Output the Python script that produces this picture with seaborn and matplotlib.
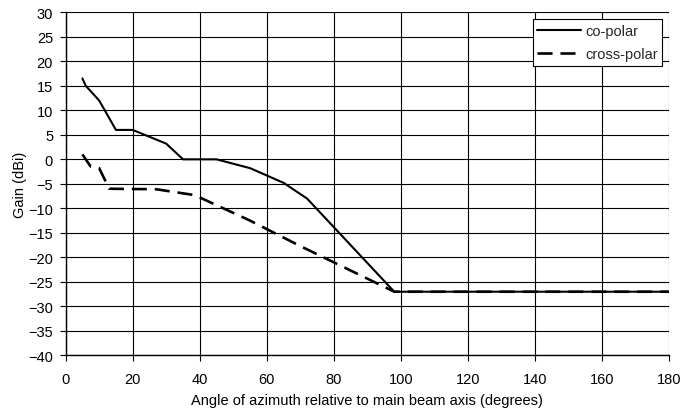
import matplotlib
matplotlib.use("Agg")
import matplotlib.pyplot as plt
import seaborn as sns
import pandas as pd

co_x = [5, 6, 10, 15, 20, 30, 35, 45, 55, 65, 72, 98, 180]
co_y = [16.5, 15, 12, 6, 6, 3.2, 0, 0, -1.8, -4.8, -8, -27, -27]
cross_x = [5, 7.5, 10, 13, 27, 38.5, 55, 70, 98, 180]
cross_y = [1, -1.5, -1.8, -6, -6.1, -7.3, -12.5, -17.7, -27, -27]
series = ["co-polar", "cross-polar"]
x_ticks = list(range(0, 181, 20))
y_ticks = list(range(-40, 31, 5))

df = pd.DataFrame({
    "angle": co_x + cross_x,
    "gain": co_y + cross_y,
    "series": [series[0]] * len(co_x) + [series[1]] * len(cross_x),
})

sns.set_theme(style="white")
plt.rcParams["font.family"] = ["Liberation Sans", "DejaVu Sans"]
FS = 10.5

fig = plt.figure(figsize=(6.85, 4.14), dpi=100)
ax = fig.add_axes([0.0958, 0.139, 0.977 - 0.0958, 0.968 - 0.139])

sns.lineplot(data=df, x="angle", y="gain", hue="series", style="series",
             palette={series[0]: "black", series[1]: "black"},
             dashes={series[0]: "", series[1]: (5.7, 3)},
             size="series", sizes={series[0]: 1.5, series[1]: 1.9},
             ax=ax, sort=False, estimator=None)

ax.set_xlim(0, 180)
ax.set_ylim(-40, 30)
ax.set_xticks(x_ticks)
ax.set_yticks(y_ticks)
ax.grid(True, color="black", linewidth=0.8)
ax.set_axisbelow(True)
for s in ["top", "right"]:
    ax.spines[s].set_visible(False)
for s in ["left", "bottom"]:
    ax.spines[s].set_color("black")
    ax.spines[s].set_linewidth(1.0)
ax.tick_params(axis="both", direction="out", length=4, width=0.8,
               color="black", labelsize=FS, labelcolor="black",
               left=True, bottom=True)
ax.tick_params(axis="x", pad=8)
ax.tick_params(axis="y", pad=5)
ax.set_xlabel("Angle of azimuth relative to main beam axis (degrees)",
              fontsize=FS, color="black", labelpad=5)
ax.set_ylabel("Gain (dBi)", fontsize=FS, color="black", labelpad=1)

leg = ax.legend(loc="upper right", bbox_to_anchor=(0.993, 0.988),
                frameon=True, fancybox=False, framealpha=1,
                edgecolor="black", fontsize=FS, handlelength=3.0,
                borderpad=0.3, labelspacing=0.65, handletextpad=0.3,
                borderaxespad=0.2)
leg.get_frame().set_linewidth(0.8)
leg.set_title(None)

fig.savefig("out.png", dpi=100)
